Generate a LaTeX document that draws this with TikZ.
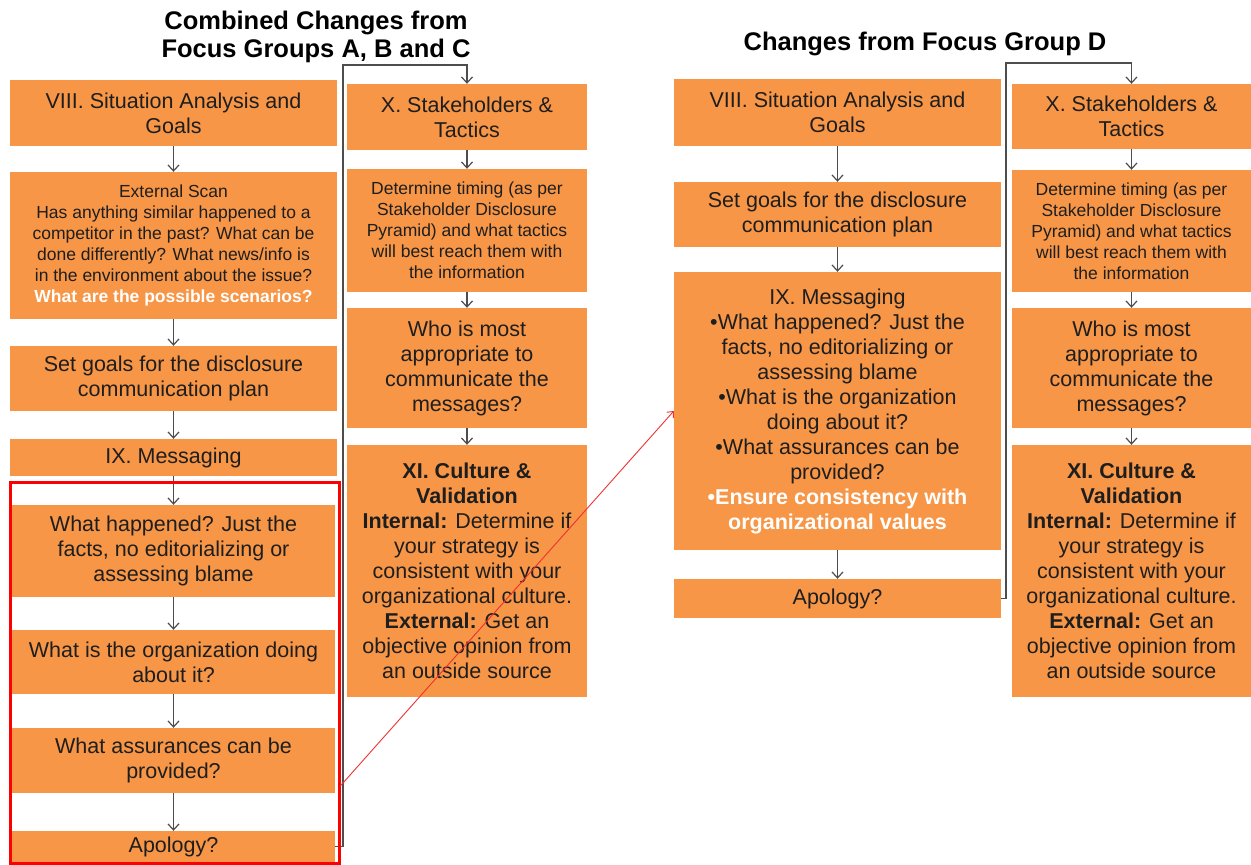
\documentclass[tikz,border=0pt]{standalone}
\usepackage{fontspec}
\setmainfont{Liberation Sans}
\usetikzlibrary{arrows.meta,calc}
\definecolor{boxfill}{HTML}{F79646}
\definecolor{ink}{HTML}{1E1E1E}
\definecolor{linegray}{HTML}{4D4D4D}
\definecolor{pointred}{HTML}{F03030}

\begin{document}
\begin{tikzpicture}[x=1pt,y=-1pt,
  box/.style={fill=boxfill, draw=none, inner sep=0pt, align=center, text=ink,
    font=\fontsize{21.5}{25}\selectfont},
  smalltext/.style={font=\fontsize{17.5}{21}\selectfont},
  widebox/.style={box, minimum width=327pt},
  innerbox/.style={box, minimum width=323pt},
  narrowbox/.style={box, minimum width=240pt},
  flow/.style={draw=linegray, line width=1.2pt, -{Straight Barb[length=6pt,width=11pt]}},
  highlight/.style={draw=red, line width=3pt, inner sep=0pt},
  pointer/.style={draw=pointred, line width=0.9pt, -{Straight Barb[length=5pt,width=9pt]}},
  title/.style={font=\fontsize{25.5}{28}\selectfont\bfseries, align=center, text=black}]
\useasboundingbox (0,0) rectangle (1251,865);

% ---------- headings ----------
\node[title] (t1) at (316,37) {Combined Changes from\\Focus Groups A, B and C};
\node[title] (t2) at (925,44) {Changes from Focus Group D};

% ---------- combined groups: first column ----------
\node[widebox, minimum height=66pt] (L1) at (173.5,113) {VIII. Situation Analysis and\\Goals};
\node[widebox, smalltext, minimum height=147pt] (L2) at (173.5,245.5)
  {External Scan\\
   Has anything similar happened to a\\
   competitor in the past? What can be\\
   done differently? What news/info is\\
   in the environment about the issue?\\
   {\color{white}\bfseries What are the possible scenarios?}};
\node[widebox, minimum height=65pt] (L3) at (173.5,378.5) {Set goals for the disclosure\\communication plan};
\node[widebox, minimum height=37pt] (L4) at (173.5,457.5) {IX. Messaging};
\node[innerbox, minimum height=92pt] (L5) at (173.5,551) {What happened? Just the\\facts, no editorializing or\\assessing blame};
\node[innerbox, minimum height=64pt] (L6) at (173.5,662) {What is the organization doing\\about it?};
\node[innerbox, minimum height=65pt] (L7) at (173.5,760.5) {What assurances can be\\provided?};
\node[innerbox, minimum height=31pt] (L8) at (173.5,846.5) {Apology?};

% ---------- combined groups: second column ----------
\node[narrowbox, minimum height=66pt] (M1) at (467,117) {X. Stakeholders \&\\Tactics};
\node[narrowbox, smalltext, minimum height=123pt] (M2) at (467,230.5)
  {Determine timing (as per\\Stakeholder Disclosure\\Pyramid) and what tactics\\will best reach them with\\the information};
\node[narrowbox, minimum height=120pt] (M3) at (467,368) {Who is most\\appropriate to\\communicate the\\messages?};
\node[narrowbox, minimum height=252pt] (M4) at (467,571)
  {\textbf{XI. Culture \&}\\\textbf{Validation}\\\textbf{Internal:} Determine if\\your strategy is\\consistent with your\\organizational culture.\\\textbf{External:} Get an\\objective opinion from\\an outside source};

% ---------- group D: first column ----------
\node[widebox, minimum height=67pt] (R1) at (837.5,112.5) {VIII. Situation Analysis and\\Goals};
\node[widebox, minimum height=65pt] (R2) at (837.5,214.5) {Set goals for the disclosure\\communication plan};
\node[widebox, minimum height=278pt] (R3) at (837.5,411)
  {IX. Messaging\\
   •What happened? Just the\\facts, no editorializing or\\assessing blame\\
   •What is the organization\\doing about it?\\
   •What assurances can be\\provided?\\
   {\color{white}\bfseries •Ensure consistency with}\\
   {\color{white}\bfseries organizational values}};
\node[widebox, minimum height=39pt] (R4) at (837.5,598.5) {Apology?};

% ---------- group D: second column ----------
\node[narrowbox, minimum width=239pt, minimum height=65pt] (S1) at (1131.5,116.5) {X. Stakeholders \&\\Tactics};
\node[narrowbox, minimum width=239pt, smalltext, minimum height=122pt] (S2) at (1131.5,231)
  {Determine timing (as per\\Stakeholder Disclosure\\Pyramid) and what tactics\\will best reach them with\\the information};
\node[narrowbox, minimum width=239pt, minimum height=120pt] (S3) at (1131.5,368) {Who is most\\appropriate to\\communicate the\\messages?};
\node[narrowbox, minimum width=239pt, minimum height=252pt] (S4) at (1131.5,571)
  {\textbf{XI. Culture \&}\\\textbf{Validation}\\\textbf{Internal:} Determine if\\your strategy is\\consistent with your\\organizational culture.\\\textbf{External:} Get an\\objective opinion from\\an outside source};

% ---------- flow arrows ----------
\draw[flow] (L1) -- (L2);
\draw[flow] (L2) -- (L3);
\draw[flow] (L3) -- (L4);
\draw[flow] (L4) -- (L5);
\draw[flow] (L5) -- (L6);
\draw[flow] (L6) -- (L7);
\draw[flow] (L7) -- (L8);
\draw[flow] (M1) -- (M2);
\draw[flow] (M2) -- (M3);
\draw[flow] (M3) -- (M4);
\draw[flow] (R1) -- (R2);
\draw[flow] (R2) -- (R3);
\draw[flow] (R3) -- (R4);
\draw[flow] (S1) -- (S2);
\draw[flow] (S2) -- (S3);
\draw[flow] (S3) -- (S4);

% elbow connectors into the second columns
\coordinate (jL) at (343,65);
\coordinate (jR) at (1006,63);
\draw[flow] (L8.east) -| (jL) -| (M1.north);
\draw[flow] (R4.east) -| (jR) -| (S1.north);

% highlighted block and its pointer
\node[highlight, minimum width=329pt, minimum height=381pt] (focus) at (174.5,672.5) {};
\draw[pointer] ($(focus.north east)!0.795!(focus.south east)$) -- (R3.west);
\end{tikzpicture}
\end{document}
